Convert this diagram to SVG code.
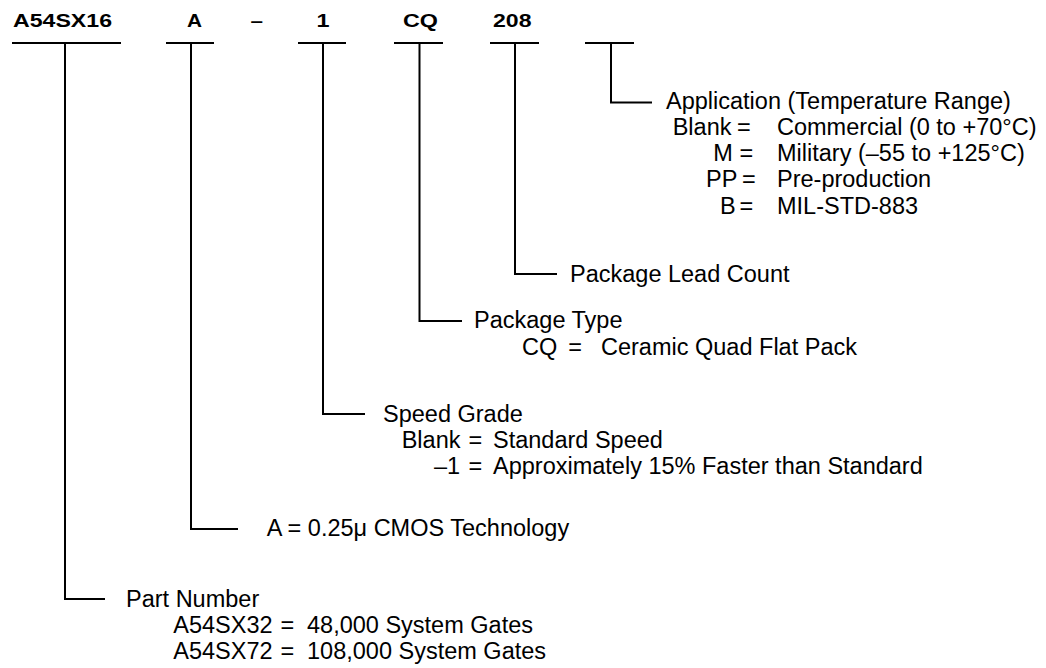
<svg xmlns="http://www.w3.org/2000/svg" width="1046" height="668" viewBox="0 0 1046 668">
<style>
  .hd { font-family: "Liberation Sans", Arial, sans-serif; font-weight: bold; font-size: 18px; fill: #000; }
  .tx { font-family: "Liberation Sans", Arial, sans-serif; font-size: 23.5px; fill: #000; }
  .ln { stroke: #000; stroke-width: 2; fill: none; stroke-linecap: butt; }
</style>
<rect width="1046" height="668" fill="#fff"/>
<g id="header">
  <text class="hd" x="13" y="27" textLength="99" lengthAdjust="spacingAndGlyphs">A54SX16</text>
  <text class="hd" x="187" y="27" textLength="15" lengthAdjust="spacingAndGlyphs">A</text>
  <text class="hd" x="250.5" y="27" textLength="12.5" lengthAdjust="spacingAndGlyphs">–</text>
  <text class="hd" x="316.5" y="27" textLength="13" lengthAdjust="spacingAndGlyphs">1</text>
  <text class="hd" x="403" y="27" textLength="35" lengthAdjust="spacingAndGlyphs">CQ</text>
  <text class="hd" x="493" y="27" textLength="38.5" lengthAdjust="spacingAndGlyphs">208</text>
</g>
<g id="connectors" class="ln">
  <line x1="12" y1="43" x2="121" y2="43"/>
  <line x1="166" y1="43" x2="214" y2="43"/>
  <line x1="298" y1="43" x2="346" y2="43"/>
  <line x1="394" y1="43" x2="443" y2="43"/>
  <line x1="490" y1="43" x2="539" y2="43"/>
  <line x1="585" y1="43" x2="634" y2="43"/>
  <polyline points="65,43 65,599 105,599"/>
  <polyline points="191,43 191,529 238,529"/>
  <polyline points="323,43 323,414 365,414"/>
  <polyline points="419.5,43 419.5,321 462,321"/>
  <polyline points="515,43 515,274 557,274"/>
  <polyline points="611,43 611,102.5 652,102.5"/>
</g>
<g id="node-application">
  <text class="tx" x="666" y="108.5">Application (Temperature Range)</text>
  <text class="tx" y="134.8"><tspan x="672.7">Blank</tspan><tspan x="737">=</tspan><tspan x="777">Commercial (0 to +70°C)</tspan></text>
  <text class="tx" y="161"><tspan x="713.3">M</tspan><tspan x="739.5">=</tspan><tspan x="777">Military (–55 to +125°C)</tspan></text>
  <text class="tx" y="187.3"><tspan x="706">PP</tspan><tspan x="742">=</tspan><tspan x="777">Pre-production</tspan></text>
  <text class="tx" y="213.6"><tspan x="720">B</tspan><tspan x="739.5">=</tspan><tspan x="777">MIL-STD-883</tspan></text>
</g>
<g id="node-lead-count">
  <text class="tx" x="570" y="281.5">Package Lead Count</text>
</g>
<g id="node-package-type">
  <text class="tx" x="474" y="328">Package Type</text>
  <text class="tx" y="354.5"><tspan x="522">CQ</tspan><tspan x="568.3">=</tspan><tspan x="601">Ceramic Quad Flat Pack</tspan></text>
</g>
<g id="node-speed-grade">
  <text class="tx" x="383" y="421.5">Speed Grade</text>
  <text class="tx" y="447.5"><tspan x="401.7">Blank</tspan><tspan x="468.5">=</tspan><tspan x="493">Standard Speed</tspan></text>
  <text class="tx" y="473.5"><tspan x="434">–1</tspan><tspan x="468.5">=</tspan><tspan x="493">Approximately 15% Faster than Standard</tspan></text>
</g>
<g id="node-technology">
  <text class="tx" x="266.7" y="536">A = 0.25μ CMOS Technology</text>
</g>
<g id="node-part-number">
  <text class="tx" x="126" y="606.5">Part Number</text>
  <text class="tx" y="632.5"><tspan x="173.3">A54SX32</tspan><tspan x="280.5">=</tspan><tspan x="307">48,000 System Gates</tspan></text>
  <text class="tx" y="658.5"><tspan x="173.3">A54SX72</tspan><tspan x="280.5">=</tspan><tspan x="307">108,000 System Gates</tspan></text>
</g>
</svg>
